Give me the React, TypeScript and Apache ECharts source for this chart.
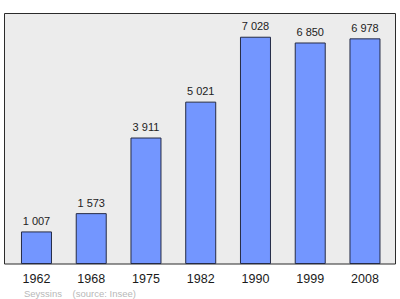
import React, { useEffect, useRef } from "react";
import * as echarts from "echarts";

const years = ["1962", "1968", "1975", "1982", "1990", "1999", "2008"];
const population = [1007, 1573, 3911, 5021, 7028, 6850, 6978];
const footer = "Seyssins    (source: Insee)";

const fmt = (v: number) => String(v).replace(/\B(?=(\d{3})+(?!\d))/g, " ");
const FONT = "Liberation Sans";

export default function App() {
  const ref = useRef<HTMLDivElement>(null);
  useEffect(() => {
    const chart = echarts.init(ref.current!, null, { renderer: "svg" });
    chart.setOption({
      animation: false,
      textStyle: { fontFamily: FONT },
      graphic: [
        {
          type: "rect",
          z: -10,
          shape: { x: 4.5, y: 13.5, width: 391, height: 250.5 },
          style: { fill: "#ececec", stroke: "#2b2b2b", lineWidth: 1 },
          silent: true,
        },
        {
          type: "text",
          left: 24,
          top: 288,
          style: { text: footer, fill: "#b8b8b8", fontSize: 9.5, fontFamily: FONT },
        },
      ],
      grid: { left: 9.1, right: 7.65, top: 14, bottom: 35 },
      xAxis: {
        type: "category",
        data: years,
        axisLine: { show: false },
        axisTick: { show: false },
        axisLabel: { color: "#1a1a1a", fontSize: 12.5, margin: 8, fontFamily: FONT },
      },
      yAxis: {
        type: "value",
        min: 0,
        max: 7731,
        show: false,
        splitLine: { show: false },
      },
      series: [
        {
          type: "bar",
          data: population,
          barWidth: 31,
          itemStyle: { color: "#7396ff", borderColor: "#252b45", borderWidth: 1 },
          label: {
            show: true,
            position: "top",
            distance: 5,
            color: "#222",
            fontSize: 11,
            fontFamily: FONT,
            formatter: (p: any) => fmt(p.value),
          },
        },
      ],
    });
    return () => chart.dispose();
  }, []);
  return <div ref={ref} style={{ width: 400, height: 299, position: "absolute", left: 0, top: 0 }} />;
}
